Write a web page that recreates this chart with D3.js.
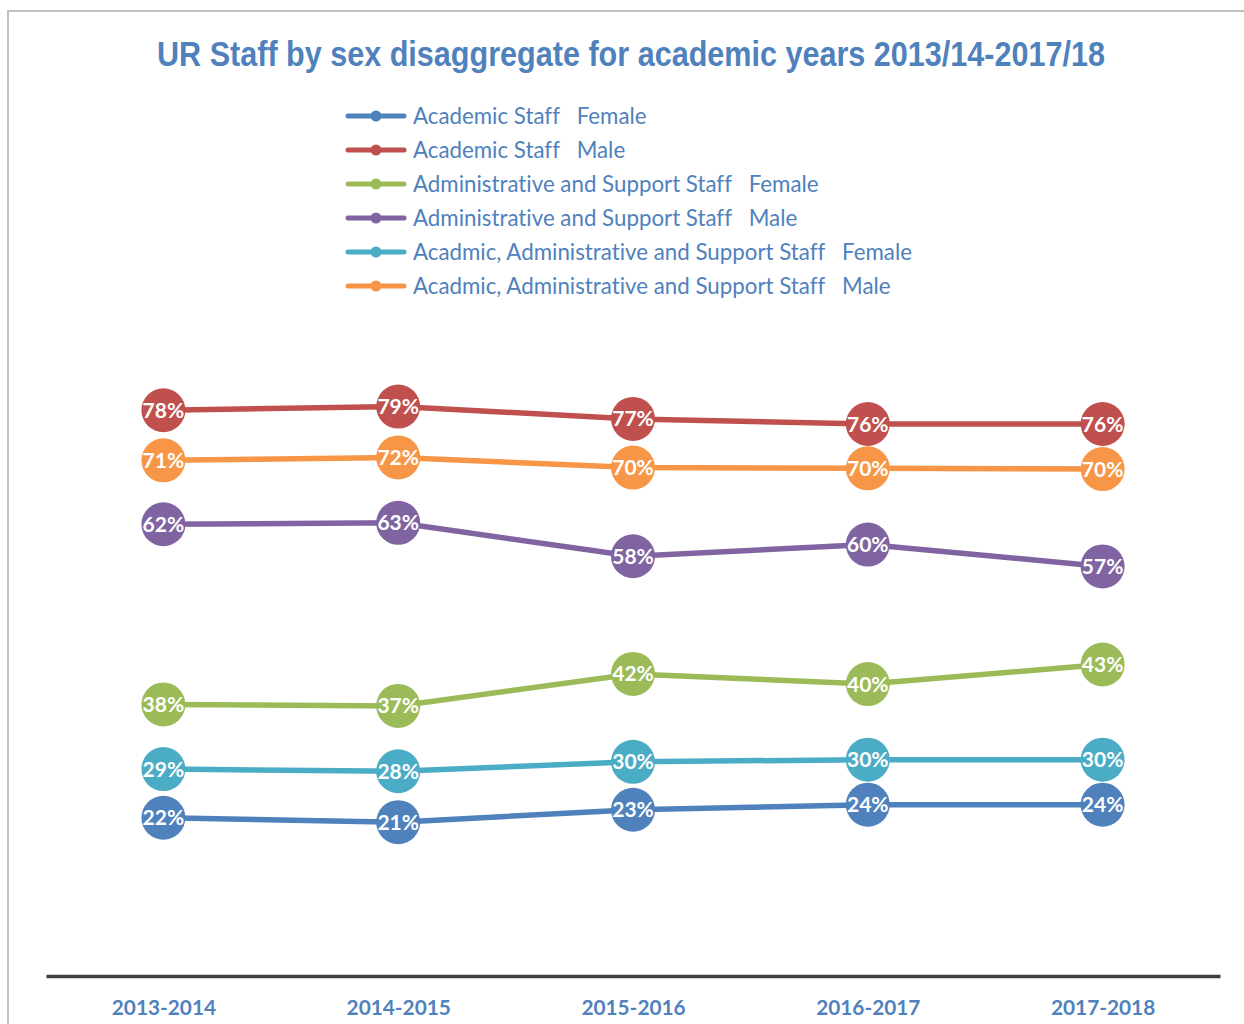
<!DOCTYPE html>
<html>
<head>
<meta charset="utf-8">
<script src="https://cdn.jsdelivr.net/npm/d3@7"></script>
<style>
  html, body { margin: 0; padding: 0; background: #fff; }
  svg { display: block; }
  text { font-variant-ligatures: none; font-feature-settings: "liga" 0, "clig" 0; }
</style>
</head>
<body>
<svg id="chart" width="1244" height="1024"></svg>
<script>
const title = "UR Staff by sex disaggregate for academic years 2013/14-2017/18";
const years = ["2013-2014", "2014-2015", "2015-2016", "2016-2017", "2017-2018"];
const seriesNames = [
  "Academic Staff   Female",
  "Academic Staff   Male",
  "Administrative and Support Staff   Female",
  "Administrative and Support Staff   Male",
  "Acadmic, Administrative and Support Staff   Female",
  "Acadmic, Administrative and Support Staff   Male"
];
const colors = ["#4f81bd", "#c0504d", "#9bbb59", "#8064a2", "#4bacc6", "#f79646"];
// values in percent
const academicFemale = [22.0, 21.4, 23.1, 23.8, 23.8];
const academicMale   = [78.1, 78.6, 76.9, 76.2, 76.2];
const adminFemale    = [37.6, 37.4, 41.8, 40.4, 43.1];
const adminMale      = [62.4, 62.6, 58.0, 59.6, 56.6];
const allFemale      = [28.7, 28.4, 29.7, 30.0, 30.0];
const allMale        = [71.2, 71.6, 70.2, 70.1, 70.0];
const seriesValues = [academicFemale, academicMale, adminFemale, adminMale, allFemale, allMale];

const svg = d3.select("#chart");
const textBlue = "#4f81bd";

// frame
svg.append("path")
  .attr("d", "M8,1024 L8,11 L1244,11")
  .attr("fill", "none").attr("stroke", "#c0c0c0").attr("stroke-width", 2);

// title
svg.append("text")
  .attr("x", 157).attr("y", 66)
  .attr("font-family", "'Liberation Sans Narrow', 'Arial Narrow', 'Liberation Sans', sans-serif")
  .attr("font-weight", "bold")
  .attr("font-size", 35)
  .attr("textLength", 948)
  .attr("lengthAdjust", "spacingAndGlyphs")
  .attr("fill", textBlue)
  .text(title);

// legend
const legend = svg.append("g");
seriesNames.forEach((name, i) => {
  const y = 116 + i * 34;
  legend.append("line")
    .attr("x1", 348).attr("x2", 404).attr("y1", y).attr("y2", y)
    .attr("stroke", colors[i]).attr("stroke-width", 5).attr("stroke-linecap", "round");
  legend.append("circle").attr("cx", 376).attr("cy", y).attr("r", 5.5).attr("fill", colors[i]);
  legend.append("text")
    .attr("x", 413).attr("y", y + 7.5)
    .attr("font-family", "Lato, 'Open Sans', sans-serif")
    .attr("font-size", 22.3)
    .attr("fill", textBlue)
    .attr("xml:space", "preserve")
    .style("white-space", "pre")
    .text(name);
});

// scales
const x = d3.scalePoint().domain(years).range([46, 1220]).padding(0.5);
const y = d3.scaleLinear().domain([0, 100]).range([977.6, 251.1]);

// axis
const xAxis = d3.axisBottom(x).tickSize(0).tickPadding(24);
const gx = svg.append("g").attr("transform", "translate(0,976)").call(xAxis);
gx.select(".domain").attr("stroke", "#404040").attr("stroke-width", 3.5);
gx.selectAll("text")
  .attr("font-family", "Lato, 'Open Sans', sans-serif")
  .attr("font-weight", "bold")
  .attr("font-size", 20.8)
  .attr("fill", textBlue);

// lines
const line = d3.line().x((d, i) => x(years[i])).y(d => y(d));
const fmt = d3.format(".0f");
seriesValues.forEach((vals, s) => {
  svg.append("path")
    .datum(vals)
    .attr("d", line)
    .attr("fill", "none")
    .attr("stroke", colors[s])
    .attr("stroke-width", 5.5);
});
seriesValues.forEach((vals, s) => {
  const g = svg.append("g");
  g.selectAll("circle").data(vals).join("circle")
    .attr("cx", (d, i) => x(years[i]))
    .attr("cy", d => y(d))
    .attr("r", 22)
    .attr("fill", colors[s]);
  g.selectAll("text").data(vals).join("text")
    .attr("x", (d, i) => x(years[i]))
    .attr("y", d => y(d) + 7.5)
    .attr("text-anchor", "middle")
    .attr("font-family", "Lato, 'Open Sans', sans-serif")
    .attr("font-weight", "bold")
    .attr("font-size", 21)
    .attr("fill", "#fff")
    .text(d => fmt(d) + "%");
});
</script>
</body>
</html>
